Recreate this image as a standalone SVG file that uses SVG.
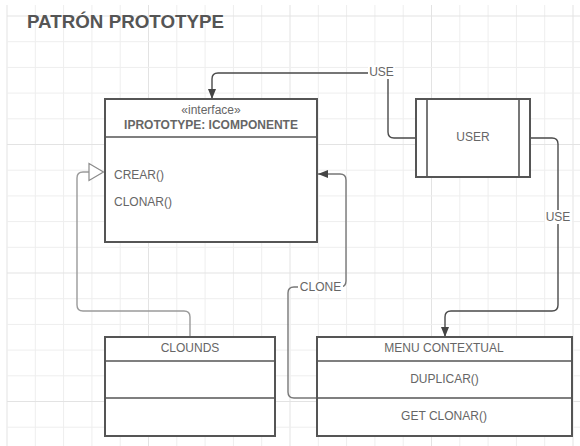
<svg xmlns="http://www.w3.org/2000/svg" width="580" height="446" viewBox="0 0 580 446">
  <style>
    .grid { stroke: #eeeeee; stroke-width: 1; fill: none; }
    .grid-major { stroke: #e3e3e3; stroke-width: 1; fill: none; }
    .box { fill: #ffffff; stroke: #555555; stroke-width: 2; }
    .div { stroke: #555555; stroke-width: 1.6; fill: none; }
    .lbl { font-family: "Liberation Sans", Arial, sans-serif; font-size: 12px; fill: #666666; }
    .mid { text-anchor: middle; dominant-baseline: central; }
    .left { text-anchor: start; dominant-baseline: central; }
    .bold { font-weight: bold; }
    .title { font-family: "Liberation Sans", Arial, sans-serif; font-size: 18px; font-weight: bold; fill: #555555; }
    .edge { fill: none; stroke-width: 1.4; }
    .use { stroke: #4a4a4a; }
    .clone { stroke: #777777; }
    .gen { stroke: #9a9a9a; }
    .lblbg { fill: #ffffff; }
  </style>
  <defs>
    <marker id="arrow-filled" viewBox="0 0 10 8" refX="10" refY="4" markerWidth="10" markerHeight="8" markerUnits="userSpaceOnUse" orient="auto">
      <path d="M0,0 L10,4 L0,8 Z" fill="#444444"/>
    </marker>
  </defs>

  <rect x="0" y="0" width="580" height="446" fill="#ffffff"/>

  <!-- background grid -->
  <g id="grid">
    <path class="grid" d="M35.3,5V446 M63.6,5V446 M91.9,5V446 M120.2,5V446 M176.8,5V446 M205.1,5V446 M233.4,5V446 M261.7,5V446 M318.3,5V446 M346.6,5V446 M374.9,5V446 M403.2,5V446 M459.8,5V446 M488.1,5V446 M516.4,5V446 M544.7,5V446"/>
    <path class="grid-major" d="M7,5V446 M148.5,5V446 M290,5V446 M431.5,5V446 M573,5V446"/>
    <path class="grid" d="M7,41.7H580 M7,67.4H580 M7,93.1H580 M7,118.8H580 M7,170.2H580 M7,195.9H580 M7,221.6H580 M7,247.3H580 M7,298.7H580 M7,324.4H580 M7,350.1H580 M7,375.8H580 M7,427.2H580"/>
    <path class="grid-major" d="M7,16H580 M7,144.5H580 M7,273H580 M7,401.5H580"/>
  </g>

  <text class="title" x="27" y="28" textLength="197" lengthAdjust="spacingAndGlyphs">PATRÓN PROTOTYPE</text>

  <!-- connectors -->
  <g id="connectors">
    <!-- USER -> interface -->
    <path class="edge use" d="M416,138 H394 Q388,138 388,132 V73 H218 Q212,73 212,79 V99" marker-end="url(#arrow-filled)"/>
    <rect class="lblbg" x="368" y="65" width="27" height="14"/>
    <text class="lbl mid" x="381.5" y="72">USE</text>

    <!-- USER -> menu -->
    <path class="edge use" d="M530,138 H552 Q558,138 558,144 V305 Q558,311 552,311 H451 Q445,311 445,317 V337" marker-end="url(#arrow-filled)"/>
    <rect class="lblbg" x="545" y="210" width="27" height="14"/>
    <text class="lbl mid" x="558" y="217">USE</text>

    <!-- menu -> interface (clone) -->
    <path class="edge clone" d="M317,398 H294 Q288,398 288,392 V293 Q288,287 294,287 H340 Q346,287 346,281 V180 Q346,174 340,174 H318" marker-end="url(#arrow-filled)"/>
    <rect class="lblbg" x="298" y="280" width="45" height="14"/>
    <text class="lbl mid" x="320.5" y="287">CLONE</text>

    <!-- CLOUNDS realizes interface -->
    <path class="edge gen" d="M190,337 V317 Q190,311 184,311 H83 Q77,311 77,305 V178 Q77,172 83,172 H89"/>
    <polygon points="89,163.5 103.5,172 89,180.5" fill="#ffffff" stroke="#8a8a8a" stroke-width="1.2"/>
  </g>

  <!-- interface node -->
  <g id="iprototype">
    <rect class="box" x="105" y="99" width="212" height="143"/>
    <line class="div" x1="105" y1="137" x2="317" y2="137"/>
    <text class="lbl mid" x="211" y="110">«interface»</text>
    <text class="lbl mid bold" x="211" y="125" font-size="12.5">IPROTOTYPE: ICOMPONENTE</text>
    <text class="lbl left" x="114" y="175">CREAR()</text>
    <text class="lbl left" x="114" y="202">CLONAR()</text>
  </g>

  <!-- user node -->
  <g id="user">
    <rect class="box" x="416" y="99" width="114" height="78"/>
    <line class="div" x1="427" y1="99" x2="427" y2="177"/>
    <line class="div" x1="519" y1="99" x2="519" y2="177"/>
    <text class="lbl mid" x="473" y="137">USER</text>
  </g>

  <!-- clounds node -->
  <g id="clounds">
    <rect class="box" x="105" y="337" width="170" height="99"/>
    <line class="div" x1="105" y1="361" x2="275" y2="361"/>
    <line class="div" x1="105" y1="398" x2="275" y2="398"/>
    <text class="lbl mid" x="190" y="347.5">CLOUNDS</text>
  </g>

  <!-- menu node -->
  <g id="menu-contextual">
    <rect class="box" x="317" y="337" width="255" height="99"/>
    <line class="div" x1="317" y1="361" x2="572" y2="361"/>
    <line class="div" x1="317" y1="398" x2="572" y2="398"/>
    <text class="lbl mid" x="444" y="347.5">MENU CONTEXTUAL</text>
    <text class="lbl mid" x="444.5" y="378.5">DUPLICAR()</text>
    <text class="lbl mid" x="444" y="416">GET CLONAR()</text>
  </g>
</svg>
